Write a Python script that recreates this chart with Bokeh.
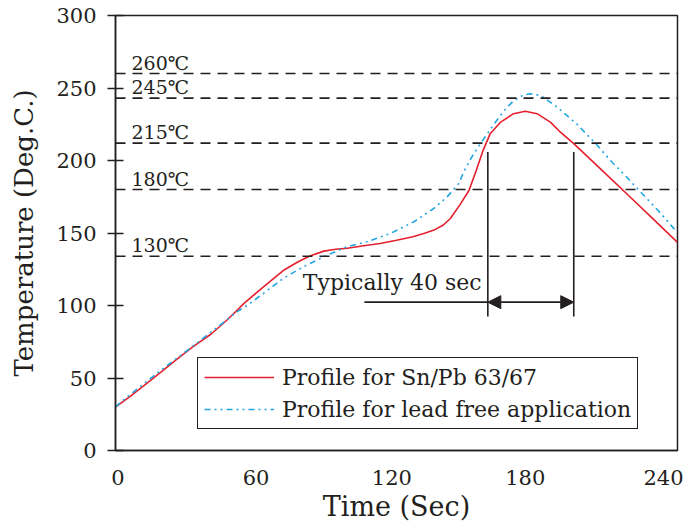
from bokeh.plotting import figure
from bokeh.models import (Range1d, FixedTicker, Span, Legend, LegendItem, Arrow, NormalHead)
from bokeh.core.properties import value
from bokeh.embed import file_html
from bokeh.resources import INLINE

# ---- data ----
snpb_time = [0, 6, 12, 19, 26, 33, 41, 48, 55, 60, 65, 72, 78, 83, 89, 94, 99, 106, 113, 120,
             127, 132, 136, 140, 143, 147, 151, 154, 157, 160, 164.5, 170, 175, 180, 185.7,
             190, 195.7, 207, 220, 230, 240]
snpb_temp = [30, 37, 44.5, 53.5, 62.6, 71.5, 80.5, 90.5, 101.6, 108.5, 115.3, 124.5, 130.2, 134.1,
             137.5, 138.8, 139.5, 141.2, 142.8, 145, 147.4, 149.8, 152, 155.5, 160, 169.2, 179.5,
             193, 207, 218.5, 226.5, 232.3, 234, 232.3, 226.5, 219.5, 211.6, 194.4, 174.5, 159,
             143.5]

leadfree_time = [0, 5, 10.7, 20.6, 32, 42, 52, 57.6, 63.3, 71.9, 80.4, 90.4, 98.9, 107.5, 117.4,
                 127.4, 135.9, 141.6, 146.6, 148.7, 152, 155.8, 162.3, 166, 170.1, 174, 177.2,
                 181.5, 185, 188.6, 197.1, 205.7, 211.4, 218, 225.6, 232, 238.4, 240]
leadfree_temp = [30, 37, 44.2, 56.9, 70.6, 83.2, 95.8, 101.6, 108.5, 119, 126.8, 134.8, 140.5, 144,
                 149.7, 157.7, 166.9, 174.9, 184.1, 192.1, 202, 211.6, 226.5, 234.5, 241.4, 245,
                 246, 244.8, 241, 236.8, 225, 210.5, 200, 189, 176, 165, 153.2, 151]

ref_levels = [260, 243, 212, 180, 134]
ref_labels = ["260℃", "245℃", "215℃", "180℃", "130℃"]

x_tick_labels = ["0", "60", "120", "180", "240"]
x_tick_label_at = [1, 60, 118, 175, 234]
y_ticks = [0, 50, 100, 150, 200, 250, 300]

window_start, window_end = 159, 195.7
window_bottom, window_top = 92.4, 205.8
arrow_level = 102.3
leader_start = 106.3
note_x, note_y = 80, 116
note_text = "Typically 40 sec"

series_labels = ["Profile for Sn/Pb 63/67", "Profile for lead free application"]

# ---- styles ----
INK = "#231F20"
RED = "#E5202E"
BLUE = "#22A6E0"
FONT = "DejaVu Serif"

p = figure(width=686, height=524, output_backend="svg", toolbar_location=None,
           x_range=Range1d(0, 240), y_range=Range1d(0, 300),
           min_border_left=115, min_border_right=9, min_border_top=15, min_border_bottom=73,
           background_fill_color="white", border_fill_color="white")

p.xgrid.visible = False
p.ygrid.visible = False
p.outline_line_color = INK
p.outline_line_width = 1.5
p.outline_line_alpha = 1

# x axis
xa = p.xaxis[0]
xa.ticker = FixedTicker(ticks=x_tick_label_at)
xa.major_label_overrides = {k: v for k, v in zip(x_tick_label_at, x_tick_labels)}
xa.major_tick_in = 0
xa.major_tick_out = 0
xa.minor_tick_line_color = None
xa.axis_line_color = INK
xa.axis_line_width = 1.5
xa.major_label_standoff = 19
xa.major_label_text_font = FONT
xa.major_label_text_font_size = "21px"
xa.major_label_text_color = INK
xa.axis_label = "Time (Sec)"
xa.axis_label_text_font = FONT
xa.axis_label_text_font_size = "27px"
xa.axis_label_text_font_style = "normal"
xa.axis_label_text_color = INK
xa.axis_label_standoff = 3

# y axis
ya = p.yaxis[0]
ya.ticker = FixedTicker(ticks=y_ticks)
ya.major_tick_in = 8
ya.major_tick_out = 8
ya.major_tick_line_color = INK
ya.major_tick_line_width = 1.5
ya.minor_tick_line_color = None
ya.axis_line_color = INK
ya.axis_line_width = 1.5
ya.major_label_standoff = 11
ya.major_label_text_font = FONT
ya.major_label_text_font_size = "21px"
ya.major_label_text_color = INK
ya.axis_label = "Temperature (Deg.C.)"
ya.axis_label_text_font = FONT
ya.axis_label_text_font_size = "26px"
ya.axis_label_text_font_style = "normal"
ya.axis_label_text_color = INK
ya.axis_label_standoff = 14

# reference temperature lines
for lv in ref_levels:
    p.add_layout(Span(location=lv, dimension="width", line_color=INK, line_width=1.6,
                      line_dash="10 7"))

p.text(x=[0] * len(ref_levels), y=ref_levels, text=ref_labels, x_offset=16, y_offset=-11,
       text_baseline="middle", text_align="left", text_font=value(FONT),
       text_font_size="19px", text_color=INK)

# curves
r_red = p.line(snpb_time, snpb_temp, line_color=RED, line_width=1.6)
r_blue = p.line(leadfree_time, leadfree_temp, line_color=BLUE, line_width=1.6,
                line_dash="6 4 2 4 2 4")

# time-above-liquidus annotation
p.segment(x0=[window_start, window_end], y0=[window_bottom, window_bottom],
          x1=[window_start, window_end], y1=[window_top, window_top],
          line_color=INK, line_width=1.6)
p.segment(x0=[leader_start], y0=[arrow_level], x1=[window_start], y1=[arrow_level],
          line_color=INK, line_width=1.6)
p.add_layout(Arrow(start=NormalHead(size=13, fill_color=INK, line_color=INK),
                   end=NormalHead(size=13, fill_color=INK, line_color=INK),
                   x_start=window_start, y_start=arrow_level,
                   x_end=window_end, y_end=arrow_level,
                   line_color=INK, line_width=1.6))
p.text(x=[note_x], y=[note_y], text=[note_text], text_baseline="middle",
       text_align="left", text_font=value(FONT), text_font_size="22px", text_color=INK)

legend = Legend(items=[LegendItem(label=series_labels[0], renderers=[r_red]),
                       LegendItem(label=series_labels[1], renderers=[r_blue])],
                location=(82, 21), margin=0, padding=6, spacing=6,
                label_height=26, glyph_height=26, glyph_width=70, label_standoff=8,
                border_line_color=INK, border_line_width=1.5, border_line_alpha=1,
                background_fill_color="white", background_fill_alpha=1,
                label_text_font=FONT, label_text_font_size="22px", label_text_color=INK)
p.add_layout(legend)

open("out.html", "w").write(file_html(p, INLINE))
